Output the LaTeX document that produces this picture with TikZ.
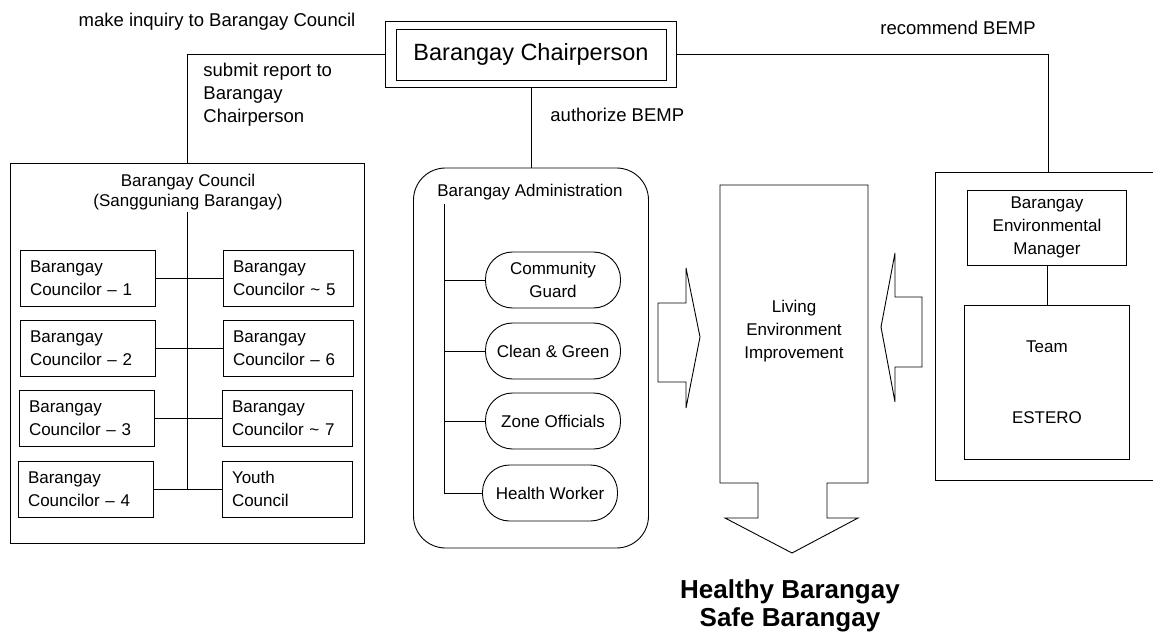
\documentclass[tikz,border=0pt]{standalone}
\usepackage{fontspec}
\setmainfont{Liberation Sans}
\usetikzlibrary{fit}
\begin{document}
\begin{tikzpicture}[x=1pt,y=-1pt,line width=0.9pt,
  body/.style={font=\fontsize{17}{23}\selectfont},
  lbl/.style={font=\fontsize{18.5}{23}\selectfont,inner sep=0pt},
  lcbox/.style={draw,body,align=left,text width=115pt,inner xsep=10pt,inner ysep=0pt,minimum height=56pt},
  rcbox/.style={draw,body,align=left,text width=110pt,inner xsep=10pt,inner ysep=0pt,minimum height=56pt},
  pill/.style={draw,body,align=center,rounded corners=27pt,minimum width=135pt,minimum height=56pt,inner sep=0pt},
  plainbox/.style={draw,body,align=center,inner sep=0pt}]
\useasboundingbox (0,0) rectangle (1153,636);

% top labels
\node[lbl] (inq) at (217,22) {make inquiry to Barangay Council};
\node[lbl] (rec) at (958,28) {recommend BEMP};
\node[lbl,anchor=west] (auth) at (550,115) {authorize BEMP};
\node[lbl,anchor=west,align=left] (sub) at (203,95) {submit report to\\Barangay\\Chairperson};

% chairperson
\node[draw,font=\fontsize{23.5}{27}\selectfont,minimum width=270pt,minimum height=51pt,inner sep=0pt] (chair) at (531,54.5) {Barangay Chairperson};
\node[draw,fit=(chair),inner xsep=10pt,inner ysep=7pt] (chairout) {};

% council
\node[draw,minimum width=354pt,minimum height=380pt] (council) at (187,353) {};
\node[body,align=center,font=\fontsize{17}{20}\selectfont] (ctitle) at (188,192) {Barangay Council\\(Sangguniang Barangay)};
\coordinate (cv) at (187,212);
\node[lcbox] (c1) at (87.5,278) {Barangay\\Councilor -- 1};
\node[lcbox] (c2) at (87.5,348) {Barangay\\Councilor -- 2};
\node[lcbox] (c3) at (86.5,418) {Barangay\\Councilor -- 3};
\node[lcbox] (c4) at (85.5,489) {Barangay\\Councilor -- 4};
\node[rcbox] (c5) at (288,278) {Barangay\\Councilor \textasciitilde{} 5};
\node[rcbox] (c6) at (288,348) {Barangay\\Councilor -- 6};
\node[rcbox] (c7) at (287,418) {Barangay\\Councilor \textasciitilde{} 7};
\node[rcbox] (yc) at (287,489) {Youth\\Council};
\draw (cv) -- (cv |- c4.east);
\draw (c1.east) -- (c5.west);
\draw (c2.east) -- (c6.west);
\draw (c3.east) -- (c7.west);
\draw (c4.east) -- (yc.west);

% administration
\node[draw,rounded corners=32pt,minimum width=235pt,minimum height=380pt] (admin) at (531,358) {};
\node[body] (atitle) at (530,192) {Barangay Administration};
\coordinate (av) at (444,204);
\node[pill] (p1) at (553,280) {Community\\Guard};
\node[pill] (p2) at (553,351) {Clean \& Green};
\node[pill] (p3) at (553,421) {Zone Officials};
\node[pill] (p4) at (550,493) {Health Worker};
\draw (av) -- (av |- p4.west);
\draw (av |- p1.west) -- (p1.west);
\draw (av |- p2.west) -- (p2.west);
\draw (av |- p3.west) -- (p3.west);
\draw (av |- p4.west) -- (p4.west);

% living environment (down arrow)
\draw (720,185) -- (868,185) -- (868,483) -- (827,483) -- (827,518) -- (858,518) -- (792,553) -- (725,518) -- (758,518) -- (758,483) -- (720,483) -- cycle;
\node[body,align=center] (living) at (794,331) {Living\\Environment\\Improvement};

% block arrows
\draw (658,303) -- (686,303) -- (686,268) -- (700,337) -- (686,408) -- (686,382) -- (658,382) -- cycle;
\draw (922,297) -- (895,297) -- (895,253) -- (881,327) -- (895,402) -- (895,367) -- (922,367) -- cycle;

% right panel
\coordinate (rp) at (1048,172);
\draw (1160,172) -- (935,172) -- (935,480) -- (1160,480);
\node[plainbox,minimum width=159pt,minimum height=75pt] (envm) at (1047,227.5) {Barangay\\Environmental\\Manager};
\node[plainbox,minimum width=165pt,minimum height=154pt] (team) at (1047,382) {Team\\[48pt]ESTERO};
\draw (envm.south) -- (team.north);

% connectors from chairperson
\draw (chairout.west) -| (council.north);
\draw (chairout.south) -- (admin.north);
\draw (chairout.east) -| (rp);

% result
\node[font=\fontsize{26}{28}\selectfont\bfseries,align=center] (healthy) at (790,606) {Healthy Barangay\\Safe Barangay};
\end{tikzpicture}
\end{document}
